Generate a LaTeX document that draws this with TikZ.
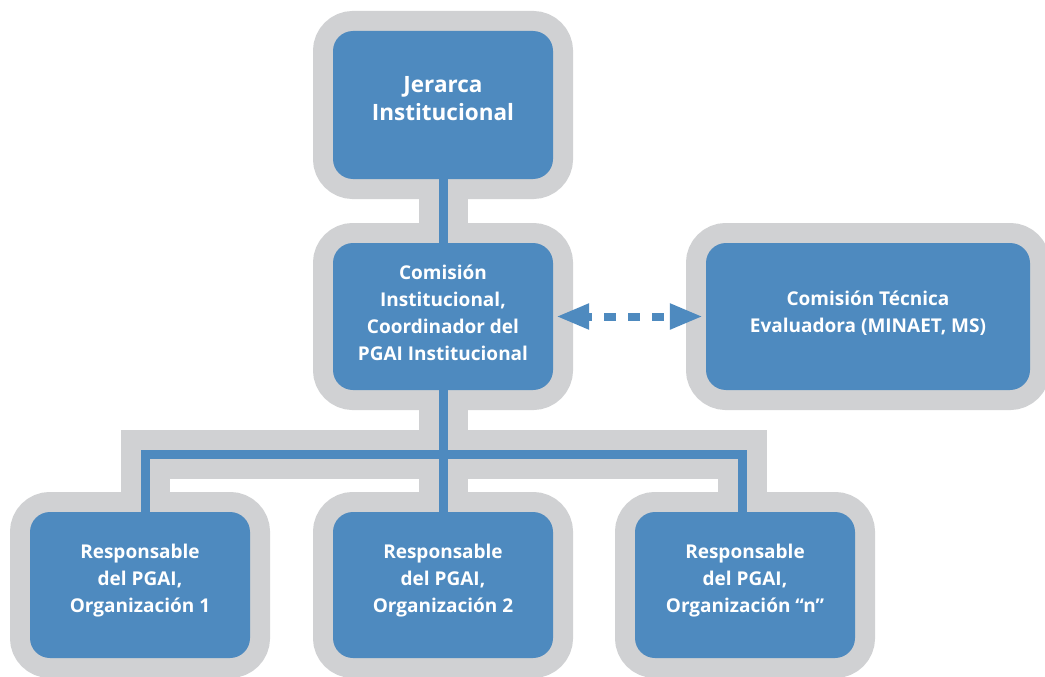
\documentclass[tikz,border=0pt]{standalone}
\usepackage{fontspec}
\setmainfont{Open Sans}
\usepackage{tikz}
\usetikzlibrary{arrows.meta, backgrounds}
\usepackage{xcolor}
\definecolor{azul}{HTML}{4E8ABF}
\definecolor{gris}{HTML}{D0D1D3}

\begin{document}
\begin{tikzpicture}[x=1pt, y=-1pt,
    caja/.style={fill=azul, rounded corners=20pt, inner sep=0pt,
        minimum width=220pt, minimum height=147pt, text=white, align=center,
        font=\bfseries\fontsize{19}{27}\selectfont, text depth=13pt,
        preaction={draw=gris, line width=40pt}},
    banda/.style={draw=gris, line width=49pt},
    linea/.style={draw=azul, line width=9pt},
    flecha/.style={draw=azul, line width=8pt, dash pattern=on 12pt off 12pt, dash phase=7pt,
        shorten <=3pt, shorten >=3pt,
        {Triangle[length=33pt, width=24pt]}-{Triangle[length=33pt, width=24pt]}}]
        \useasboundingbox (0,0) rectangle (1045,677);
        \clip (0,0) rectangle (1045,677);
        % Cajas
        \node[caja, minimum height=148pt, text depth=14pt, font=\bfseries\fontsize{22.5}{28}\selectfont] (jerarca) at (443,105) {Jerarca\\Institucional};
        \node[caja, text depth=8pt] (comision) at (443,316.5) {Comisión\\Institucional,\\Coordinador del\\PGAI Institucional};
        \node[caja, minimum width=324pt, text depth=10pt] (tecnica) at (868,316.5) {Comisión Técnica\\Evaluadora (MINAET, MS)};
        \node[caja, minimum height=146pt] (resp1) at (140,585) {Responsable\\del PGAI,\\Organización 1};
        \node[caja, minimum height=146pt] (resp2) at (443,585) {Responsable\\del PGAI,\\Organización 2};
        \node[caja, minimum height=146pt] (resp3) at (745,585) {Responsable\\del PGAI,\\Organización “n”};
        \coordinate (bus) at (443,454);
        % Bandas grises
        \begin{scope}[on background layer]
            \draw[banda] (jerarca.south) -- (comision.north);
            \draw[banda] (comision.south) -- (resp2.north);
            \draw[banda] ([xshift=5pt]resp1.north) |- (bus) -| ([xshift=-3pt]resp3.north);
        \end{scope}
        % Lineas azules
        \draw[linea] (jerarca.south) -- (comision.north);
        \draw[linea] (comision.south) -- (resp2.north);
        \draw[linea] ([xshift=5pt]resp1.north) |- (bus) -| ([xshift=-3pt]resp3.north);
        \draw[flecha] (comision.east) -- (tecnica.west);
    \end{tikzpicture}
\end{document}
